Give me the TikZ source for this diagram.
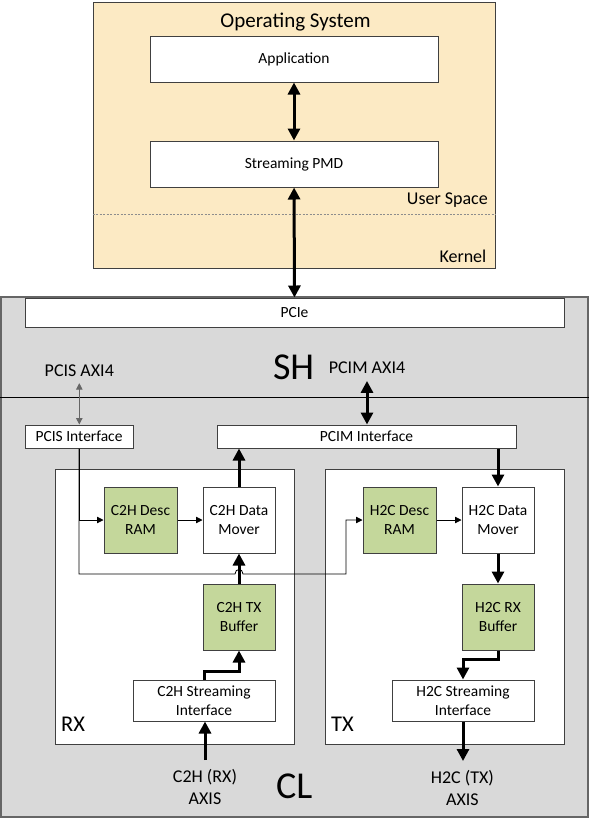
\documentclass[tikz,border=0pt]{standalone}
\usepackage{fontspec}
\setmainfont{Carlito}
\usepackage{xcolor}
\usetikzlibrary{shapes,arrows,positioning,calc,arrows.meta}

\definecolor{osfill}{HTML}{FCEAC4}
\definecolor{ramgreen}{HTML}{C4D79B}
\definecolor{clgray}{HTML}{D9D9D9}
\definecolor{boxline}{HTML}{404040}

\newcommand{\boxfont}{\fontsize{15.5}{19.5}\selectfont}
\newcommand{\lblfont}{\fontsize{18}{22}\selectfont}
\newcommand{\bigfont}{\fontsize{38}{44}\selectfont}

\begin{document}
\begin{tikzpicture}[x=1pt, y=-1pt,
    blk/.style={draw=boxline, line width=1pt, rectangle, fill=white, font=\boxfont, align=center, inner sep=0pt},
    ram/.style={blk, fill=ramgreen, minimum width=73pt, minimum height=66pt},
    mover/.style={blk, minimum width=72pt, minimum height=66pt},
    lane/.style={draw=boxline, line width=1pt, rectangle, fill=white, minimum width=239pt, minimum height=275pt},
    lbl/.style={inner sep=0pt, font=\lblfont, align=center},
    bus/.style={line width=3pt, -{Triangle[length=12pt,width=12pt]}},
    busboth/.style={line width=3pt, {Triangle[length=12pt,width=12pt]}-{Triangle[length=12pt,width=12pt]}},
    sig/.style={line width=0.8pt, -{Triangle[length=6.5pt,width=6.5pt]}},
    sigboth/.style={line width=0.8pt, {Triangle[length=6.5pt,width=6.5pt]}-{Triangle[length=6.5pt,width=6.5pt]}}]
    \useasboundingbox (0,0) rectangle (589,831);

    % Operating System
    \node [draw=boxline, line width=1pt, fill=osfill, minimum width=402pt, minimum height=266pt] (os) at (294,135) {};
    \node [font=\fontsize{21}{25}\selectfont, anchor=base, inner sep=0pt] (ostitle) at (295.5,27) {Operating System};
    \node [blk, minimum width=288pt, minimum height=46pt] (app) at (294,59) {Application};
    \node [blk, minimum width=288pt, minimum height=46pt] (pmd) at (294,164) {Streaming PMD};
    \coordinate (split) at (294,214);
    \draw [boxline!60, line width=0.5pt, dash pattern=on 2pt off 1.5pt] (os.west |- split) -- (os.east |- split);
    \node [font=\lblfont, anchor=base east, inner sep=0pt] (user) at (488,204) {User Space};
    \node [font=\lblfont, anchor=base east, inner sep=0pt] (kernel) at (486.5,262) {Kernel};

    % Shell / custom logic
    \node [draw=boxline!80, line width=1.2pt, fill=clgray, minimum width=587pt, minimum height=520pt] (cl) at (294.5,557) {};
    \coordinate (shcl) at (294,397);
    \draw [line width=0.8pt] (cl.west |- shcl) -- (cl.east |- shcl);
    \node [blk, minimum width=539pt, minimum height=29pt] (pcie) at (294.5,312.5) {PCIe};
    \node [font=\bigfont, anchor=base, inner sep=0pt] (sh) at (293.6,379) {SH};
    \node [font=\bigfont, anchor=base, inner sep=0pt] (cltitle) at (294.3,798) {CL};
    \node [lbl, anchor=base, outer sep=7pt] (pcislbl) at (79.3,376) {PCIS AXI4};
    \node [lbl, anchor=base, outer sep=7.5pt] (pcimlbl) at (367,373.3) {PCIM AXI4};
    \node [blk, minimum width=108pt, minimum height=23pt] (pcisif) at (79,436.5) {PCIS Interface};
    \node [blk, minimum width=299pt, minimum height=23pt] (pcimif) at (366.5,436.5) {PCIM Interface};

    % RX side
    \node [lane] (rx) at (174.5,606.5) {};
    \node [font=\fontsize{22.5}{27}\selectfont, anchor=base west, inner sep=0pt] (rxlbl) at (61,731.7) {RX};
    \node [ram] (c2hdesc) at (140.5,520) {C2H Desc\\RAM};
    \node [mover, right of=c2hdesc, node distance=98.5pt] (c2hdm) {C2H Data\\Mover};
    \node [ram, minimum width=72pt] (c2hbuf) at (239,617) {C2H TX\\Buffer};
    \node [blk, minimum width=142pt, minimum height=41pt] (c2hsi) at (204,700.5) {C2H Streaming\\Interface};
    \node [lbl, anchor=north, outer sep=9.5pt] (c2hlbl) at (205,760) {C2H (RX)\\AXIS};

    % TX side
    \node [lane] (tx) at (444.5,606.5) {};
    \node [font=\fontsize{22.5}{27}\selectfont, anchor=base west, inner sep=0pt] (txlbl) at (331,731.7) {TX};
    \node [ram] (h2cdesc) at (399.5,520) {H2C Desc\\RAM};
    \node [mover, right of=h2cdesc, node distance=98.5pt] (h2cdm) {H2C Data\\Mover};
    \node [ram, minimum width=72pt] (h2cbuf) at (498,617) {H2C RX\\Buffer};
    \node [blk, minimum width=142pt, minimum height=41pt] (h2csi) at (463,700.5) {H2C Streaming\\Interface};
    \node [lbl, anchor=north, outer sep=9.5pt] (h2clbl) at (462.4,761) {H2C (TX)\\AXIS};

    % host side links
    \draw [busboth] (app) -- (pmd);
    \draw [busboth] (pmd) -- (pcie);
    \draw [busboth] (pcimlbl.south) -- (pcimlbl.south |- pcimif.north);
    \draw [sigboth, boxline!80] (pcislbl.south) -- (pcislbl.south |- pcisif.north);

    % descriptor path from PCIS
    \coordinate (pcisjoin) at (79,574);
    \coordinate (hopin) at (235,574);
    \coordinate (hopout) at (243,574);
    \coordinate (pcisturn) at (346,574);
    \draw [sig] (pcisif.south) |- (c2hdesc.west);
    \draw [sig] (pcisif.south) -- (pcisjoin) -- (hopin) .. controls ($(hopin)+(0,-6)$) and ($(hopout)+(0,-6)$) .. (hopout) -- (pcisturn) |- (h2cdesc.west);
    \draw [sig] (c2hdesc) -- (c2hdm);
    \draw [sig] (h2cdesc) -- (h2cdm);

    % data path
    \draw [bus] (c2hlbl.north) -- (c2hsi.south -| c2hlbl.north);
    \draw [bus] (c2hsi.north) -- ++(0,-8) -| (c2hbuf.south);
    \draw [bus] (c2hbuf.north) -- (c2hdm.south);
    \draw [bus] (c2hdm.north) -- (c2hdm.north |- pcimif.south);
    \draw [bus] (pcimif.south -| h2cdm.north) -- (h2cdm.north);
    \draw [bus] (h2cdm.south) -- (h2cbuf.north);
    \draw [bus] (h2cbuf.south) -- ++(0,9) -| (h2csi.north);
    \draw [bus] (h2csi.south) -- (h2csi.south |- h2clbl.north);
\end{tikzpicture}
\end{document}
